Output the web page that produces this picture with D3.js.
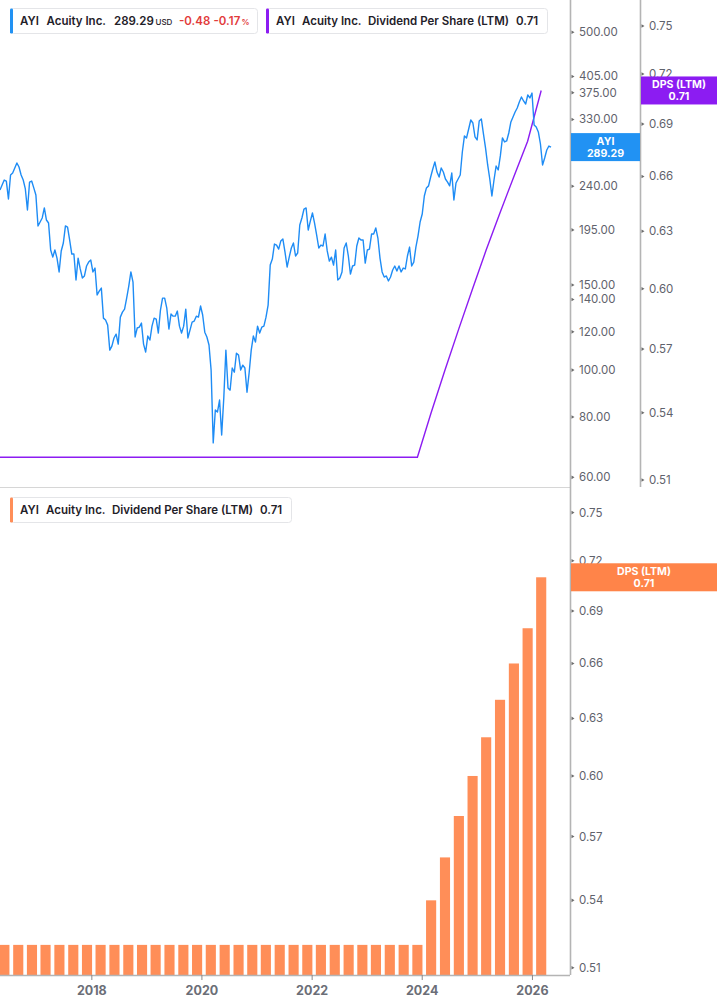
<!DOCTYPE html>
<html><head><meta charset="utf-8">
<script src="https://cdn.jsdelivr.net/npm/d3@7/dist/d3.min.js"></script>
<style>
body{margin:0;background:#fff;}
svg{display:block;font-family:Inter,"Noto Sans",sans-serif;}
</style></head><body>
<svg id="c" width="717" height="1005"></svg>
<script>
// ---------- data ----------
const ticker = "AYI";
const company = "Acuity Inc.";
const dpsName = "Dividend Per Share (LTM)";
const dpsShort = "DPS (LTM)";
const lastPrice = 289.29, priceChange = -0.48, priceChangePct = -0.17, lastDps = 0.71;

// bi-weekly closes starting at priceStart
const priceStart = "2016-05-02";
const priceStepDays = 14;
const prices = [
235.9,241.5,247.3,246.1,226.0,253.3,255.7,261.9,268.2,263.1,
253.3,247.3,237.0,214.4,244.9,246.1,238.2,230.3,198.7,202.5,
206.4,216.5,204.4,201.5,177.2,171.3,177.2,170.5,159.6,176.4,
183.2,198.7,197.7,185.8,173.8,173.8,153.6,170.5,161.9,155.1,
156.6,164.2,167.3,168.9,159.6,162.6,143.0,145.7,147.8,128.1,
126.9,123.9,110.0,112.1,116.5,118.7,113.2,128.7,131.8,133.7,
140.9,149.2,159.6,152.1,117.1,122.2,122.7,125.1,113.2,109.0,
117.6,115.4,123.3,128.1,127.5,119.3,133.1,140.9,140.9,134.4,
121.6,130.6,129.3,129.3,132.5,123.3,119.3,123.3,133.7,116.5,
121.0,125.7,126.3,129.3,128.7,135.7,130.0,119.8,117.1,112.7,
100.0,70.7,82.7,81.9,86.7,73.4,87.5,110.0,91.8,90.9,
101.0,99.0,108.4,107.4,100.0,102.4,101.0,90.0,98.6,110.0,
117.6,114.3,123.3,119.3,122.7,123.3,128.7,136.3,164.9,169.7,
182.3,181.4,178.0,184.9,186.7,175.5,163.4,171.3,178.9,183.2,
172.2,174.7,199.6,206.4,215.4,216.5,194.9,203.4,211.4,201.5,
190.3,178.9,181.4,180.6,191.2,176.4,168.1,171.3,164.9,177.2,
153.6,155.1,159.6,178.9,183.2,172.2,158.0,164.2,164.9,180.6,
187.6,185.8,185.8,166.5,177.2,178.0,191.2,191.2,196.8,187.6,
170.5,159.6,155.8,156.6,152.9,155.8,161.1,164.2,160.3,164.2,
159.6,162.6,161.9,172.2,179.7,164.2,167.3,179.7,189.4,202.5,
210.3,229.2,238.2,240.5,250.9,260.6,269.5,256.9,250.9,261.9,
256.9,248.5,244.9,240.5,255.7,224.9,243.8,248.5,253.3,282.6,
305.1,302.2,315.4,329.2,324.5,303.6,299.3,327.6,330.8,308.0,
288.0,265.7,248.5,229.2,247.3,264.4,259.4,277.4,302.2,296.5,
297.9,309.4,326.1,333.9,342.0,348.6,358.7,367.3,360.4,355.2,
370.8,365.6,374.3,321.5,318.4,310.9,293.6,265.7,274.7,285.3,290.8,
289.29
];

// quarterly dividend per share (LTM)
const dpsDates = [
"2016-02-29","2016-05-31","2016-08-31","2016-11-30",
"2017-02-28","2017-05-31","2017-08-31","2017-11-30",
"2018-02-28","2018-05-31","2018-08-31","2018-11-30",
"2019-02-28","2019-05-31","2019-08-31","2019-11-30",
"2020-02-29","2020-05-31","2020-08-31","2020-11-30",
"2021-02-28","2021-05-31","2021-08-31","2021-11-30",
"2022-02-28","2022-05-31","2022-08-31","2022-11-30",
"2023-02-28","2023-05-31","2023-08-31","2023-11-30",
"2024-02-29","2024-05-31","2024-08-31","2024-11-30",
"2025-02-28","2025-05-31","2025-08-31","2025-11-30",
"2026-02-28"
];
const dpsValues = [
0.52,0.52,0.52,0.52, 0.52,0.52,0.52,0.52, 0.52,0.52,0.52,0.52,
0.52,0.52,0.52,0.52, 0.52,0.52,0.52,0.52, 0.52,0.52,0.52,0.52,
0.52,0.52,0.52,0.52, 0.52,0.52,0.52,0.52,
0.54,0.56,0.58,0.60, 0.62,0.64,0.66,0.68,
0.71
];

const priceTicks = [60,80,100,120,140,150,195,240,285,330,375,405,500];
const dpsTicks = [0.51,0.54,0.57,0.60,0.63,0.66,0.69,0.72,0.75];
const yearTicks = ["2018","2020","2022","2024","2026"];
const xDomain = ["2016-05-02","2026-09-07"];
const priceDomain = [57.3, 583];
const dpsTopDomain = [0.507, 0.7667];
const dpsBottomDomain = [0.5069, 0.7632];

// ---------- styles ----------
const BLUE = "#2192f3", LINEBLUE = "#1e8cf5", PURPLE = "#8c1cf2", ORANGE = "#ff8e58", ORANGEBOX = "#ff8449";
const AXIS = "#b4b4b4", TICKTXT = "#5f626c", RED = "#e23b3b", DARK = "#1f2129";

const svg = d3.select("#c");
const plotR = 570, axis2X = 640, W = 717;
const topB = 487, botT = 492, botB = 975;

const parse = d3.utcParse("%Y-%m-%d");
const x = d3.scaleUtc().domain(xDomain.map(parse)).range([0, plotR]);
const yP = d3.scaleLog().domain(priceDomain).range([topB, 0]);
const yD1 = d3.scaleLog().domain(dpsTopDomain).range([topB, 0]);
const yD2 = d3.scaleLog().domain(dpsBottomDomain).range([botB, botT]);

const start = parse(priceStart);
const priceData = prices.map((p, i) => ({d: d3.utcDay.offset(start, i * priceStepDays), v: p}));
const dpsData = dpsDates.map((s, i) => ({d: parse(s), v: dpsValues[i]}));

const defs = svg.append("defs");
defs.append("clipPath").attr("id","clipTop").append("rect").attr("x",0).attr("y",0).attr("width",plotR).attr("height",topB);
defs.append("clipPath").attr("id","clipBot").append("rect").attr("x",0).attr("y",botT).attr("width",plotR).attr("height",botB-botT);

// ---------- top panel ----------
const gTop = svg.append("g").attr("clip-path","url(#clipTop)");
gTop.append("path").datum(dpsData)
  .attr("fill","none").attr("stroke",PURPLE).attr("stroke-width",1.4)
  .attr("d", d3.line().x(d=>x(d.d)).y(d=>yD1(d.v)));
gTop.append("path").datum(priceData)
  .attr("fill","none").attr("stroke",LINEBLUE).attr("stroke-width",1.4).attr("stroke-linejoin","round")
  .attr("d", d3.line().x(d=>x(d.d)).y(d=>yP(d.v)));

// bottom baseline of top panel
svg.append("line").attr("x1",0).attr("x2",plotR).attr("y1",topB+0.5).attr("y2",topB+0.5)
  .attr("stroke","#d6d6d6").attr("stroke-width",1);

// axes lines
svg.append("line").attr("x1",plotR+0.5).attr("x2",plotR+0.5).attr("y1",0).attr("y2",botB)
  .attr("stroke",AXIS).attr("stroke-width",1.6);
svg.append("line").attr("x1",axis2X+0.5).attr("x2",axis2X+0.5).attr("y1",0).attr("y2",topB)
  .attr("stroke",AXIS).attr("stroke-width",1.6);

function tickMarks(g, ys, x0){
  g.selectAll(null).data(ys).enter().append("path")
   .attr("d", y => `M${x0},${y-1.8}L${x0+3},${y}L${x0},${y+1.8}Z`).attr("fill","#6d6d6d");
}
const fmt2 = v => d3.format(".2f")(v).replace("\u2212", "-");
// a tick label is hidden when a value box covers it
function visibleTicks(ticks, scale, boxCenter){
  return ticks.filter(t => Math.abs(scale(t) - boxCenter) > 9);
}
// price axis
const gPA = svg.append("g");
tickMarks(gPA, priceTicks.map(yP), plotR+1.5);
gPA.selectAll(null).data(visibleTicks(priceTicks, yP, yP(lastPrice))).enter().append("text")
  .attr("x", plotR+9).attr("y", d=>yP(d)+4).attr("font-size",11.5).attr("fill",TICKTXT)
  .text(d=>fmt2(d));
// dps axis top
const gDA = svg.append("g");
tickMarks(gDA, dpsTicks.map(yD1), axis2X+1.5);
gDA.selectAll(null).data(dpsTicks).enter().append("text")
  .attr("x", axis2X+9).attr("y", d=>yD1(d)+4).attr("font-size",11.5).attr("fill",TICKTXT)
  .text(d=>fmt2(d));

// value boxes
function valueBox(x0, w, cy, color, l1, l2){
  const g = svg.append("g");
  g.append("rect").attr("x",x0).attr("y",cy-14).attr("width",w).attr("height",28).attr("fill",color);
  g.append("text").attr("x",x0+w/2).attr("y",cy-2.4).attr("text-anchor","middle")
   .attr("font-size",10.6).attr("font-weight",700).attr("fill","#fff").text(l1);
  g.append("text").attr("x",x0+w/2).attr("y",cy+9.8).attr("text-anchor","middle")
   .attr("font-size",10.6).attr("font-weight",700).attr("fill","#fff").text(l2);
}
valueBox(plotR+1, axis2X-plotR-1, yP(lastPrice), BLUE, ticker, fmt2(lastPrice));
valueBox(axis2X+1, W-axis2X-1, yD1(lastDps), PURPLE, dpsShort, fmt2(lastDps));

// ---------- bottom panel ----------
const gBot = svg.append("g").attr("clip-path","url(#clipBot)");
const step = x(dpsData[2].d) - x(dpsData[1].d);
const bw = step * 0.73;
gBot.selectAll("rect.bar").data(dpsData).enter().append("rect").attr("class","bar")
  .attr("x", d=>x(d.d)-bw/2).attr("width",bw)
  .attr("y", d=>yD2(d.v)).attr("height", d=>botB-yD2(d.v))
  .attr("fill",ORANGE);

// bottom x axis
svg.append("line").attr("x1",0).attr("x2",plotR).attr("y1",botB+0.5).attr("y2",botB+0.5)
  .attr("stroke",AXIS).attr("stroke-width",1.6);
const xt = yearTicks.map(s => parse(s+"-01-01"));
svg.selectAll("line.xt").data(xt).enter().append("line").attr("class","xt")
  .attr("x1",d=>x(d)).attr("x2",d=>x(d)).attr("y1",botB).attr("y2",botB+5)
  .attr("stroke","#8a8a8a").attr("stroke-width",1);
svg.selectAll("text.xl").data(xt).enter().append("text").attr("class","xl")
  .attr("x",d=>x(d)).attr("y",995).attr("text-anchor","middle")
  .attr("font-size",12.5).attr("font-weight",700).attr("fill","#6b6e77")
  .text(d=>d3.utcFormat("%Y")(d));

// bottom dps axis
const gDB = svg.append("g");
tickMarks(gDB, dpsTicks.map(yD2), plotR+1.5);
gDB.selectAll(null).data(dpsTicks).enter().append("text")
  .attr("x", plotR+9).attr("y", d=>yD2(d)+4).attr("font-size",11.5).attr("fill",TICKTXT)
  .text(d=>fmt2(d));
valueBox(plotR+1, W-plotR-1, yD2(lastDps), ORANGEBOX, dpsShort, fmt2(lastDps));

// ---------- legends ----------
function legend(x0, y0, w, color, parts){
  const g = svg.append("g");
  g.append("rect").attr("x",x0+0.5).attr("y",y0+0.5).attr("width",w).attr("height",25).attr("rx",3)
   .attr("fill","#fff").attr("stroke","#e4e5e8");
  g.append("rect").attr("x",x0).attr("y",y0+0.5).attr("width",3).attr("height",25).attr("rx",1.2).attr("fill",color);
  const t = g.append("text").attr("y",y0+17.2).attr("font-size",11.5).attr("font-weight",600).attr("fill",DARK);
  parts.forEach(p => {
    const s = t.append("tspan").attr("x", x0 + p.at).text(p.t);
    if (p.fill) s.attr("fill", p.fill);
    if (p.size) s.attr("font-size", p.size);
    if (p.weight) s.attr("font-weight", p.weight);
  });
}
legend(10, 8, 247, BLUE, [
  {t: ticker, at: 10}, {t: company, at: 36.5}, {t: fmt2(lastPrice), at: 104},
  {t: "USD", at: 145.5, size: 8, weight: 500},
  {t: fmt2(priceChange), at: 169, fill: RED},
  {t: fmt2(priceChangePct), at: 203.5, fill: RED},
  {t: "%", at: 231.5, size: 8, fill: RED}
]);
const dpsParts = [
  {t: ticker, at: 10}, {t: company, at: 36}, {t: dpsName, at: 102}, {t: fmt2(lastDps), at: 250}
];
legend(266, 8, 281, PURPLE, dpsParts);
legend(10, 497, 281, ORANGE, dpsParts);
</script>
</body></html>
